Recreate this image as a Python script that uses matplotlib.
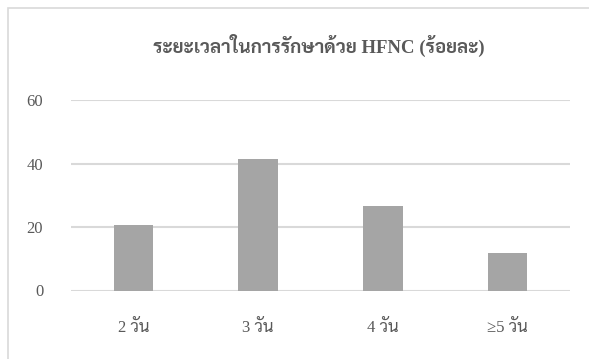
import matplotlib
matplotlib.use("Agg")
import numpy as np
import matplotlib.pyplot as plt
from matplotlib.patches import Rectangle

categories = ["2 วัน", "3 วัน", "4 วัน", "≥5 วัน"]
values = [20.7, 41.3, 26.6, 11.8]
yticks = [0, 20, 40, 60]
title = "ระยะเวลาในการรักษาด้วย HFNC (ร้อยละ)"

plt.rcParams['font.family'] = ['Liberation Serif', 'Sarabun']

W, H = 589, 359
fig = plt.figure(figsize=(W / 100, H / 100), dpi=100)
ax = fig.add_axes([71 / W, 1 - 290.5 / H, (570 - 71) / W, (290.5 - 100) / H])

xpos = np.arange(len(categories))
ax.bar(xpos, values, width=0.316, color="#A5A5A5", zorder=3)

ax.set_xlim(-0.5, len(categories) - 0.5)
ax.set_ylim(0, 60)
ax.set_yticks(yticks)
ax.yaxis.grid(True, color="#D9D9D9", linewidth=1.5, zorder=0)
ax.set_xticks(xpos)
ax.set_xticklabels(categories)
for s in ax.spines.values():
    s.set_visible(False)
ax.tick_params(axis="both", length=0, labelsize=12, colors="#595959")
ax.tick_params(axis="y", pad=20)
ax.tick_params(axis="x", pad=21)

fig.text(319 / W, 1 - 45 / H, title, ha="center", va="center",
         fontsize=13.5, fontweight="bold", color="#595959")

fig.patches.append(Rectangle((8 / W, -0.1), 1.2, 1 - 8 / H + 0.1,
                             transform=fig.transFigure, fill=False,
                             edgecolor="#D9D9D9", linewidth=1.2))

fig.savefig("out.png", dpi=100)
